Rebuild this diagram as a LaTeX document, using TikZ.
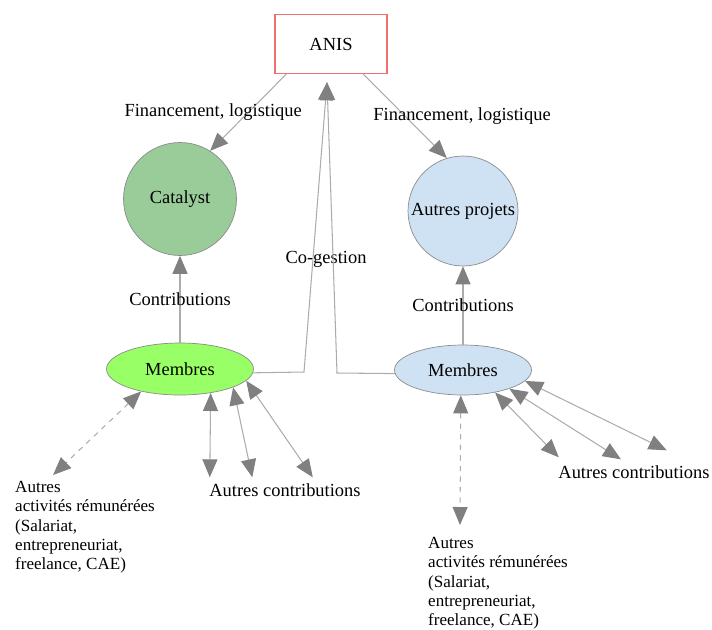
\documentclass[tikz,border=0pt]{standalone}
\usepackage{fontspec}
\setmainfont{Liberation Serif}
\usepackage{xcolor}
\usepackage{tikz}
\usetikzlibrary{shapes.geometric,arrows.meta,calc}
\definecolor{anisred}{RGB}{240,112,112}
\definecolor{catgreen}{RGB}{153,204,153}
\definecolor{memgreen}{RGB}{153,255,102}
\definecolor{lightblue}{RGB}{207,226,243}
\definecolor{linegray}{RGB}{172,172,172}
\definecolor{tipgray}{RGB}{128,128,128}
\definecolor{bordergray}{RGB}{140,140,140}

\begin{document}
\begin{tikzpicture}[x=0.02cm,y=-0.02cm,font=\fontsize{10.5}{12.6}\selectfont,
    >={Triangle[length=0.36cm,width=0.3cm,color=tipgray]}]
    % `project' is used for the two circles (Catalyst, other projects).
    % `members' is used for the two ellipses.
    % `link' is used for every connector, `others' for the text blocks.
    \tikzstyle{project} = [draw=bordergray,shape=circle,inner sep=0pt]
    \tikzstyle{members} = [draw=bordergray,shape=ellipse,inner sep=0pt]
    \tikzstyle{link} = [draw=linegray,line width=0.6pt,->]
    \tikzstyle{others} = [align=left,anchor=north west,font=\fontsize{9.7}{11}\selectfont]
    \useasboundingbox (0,0) rectangle (712,629);
    %
    % Nodes.
    \node[draw=anisred,line width=0.8pt,minimum width=2.24cm,minimum height=1.18cm] (anis) at (331,44) {ANIS};
    \node[project,fill=catgreen,minimum size=2.26cm] (cat) at (180,199) {Catalyst};
    \node[project,fill=lightblue,minimum size=2.2cm] (proj) at (463,211) {Autres projets};
    \node[members,fill=memgreen,minimum width=2.94cm,minimum height=1.04cm] (mem1) at (180,369) {Membres};
    \node[members,fill=lightblue,minimum width=2.74cm,minimum height=1cm] (mem2) at (463,370) {Membres};
    \node (cog) at (326,259) {Co-gestion};
    \node (contL) at (285,490) {Autres contributions};
    \node (contR) at (634,472) {Autres contributions};
    \node[others] (actL) at (9,475) {Autres\\activités rémunérées\\(Salariat,\\entrepreneuriat,\\freelance, CAE)};
    \node[others] (actR) at (422,531) {Autres\\activités rémunérées\\(Salariat,\\entrepreneuriat,\\freelance, CAE)};
    %
    % Funding and contributions.
    \draw[link] (anis.214) -- node[xshift=-0.7cm] {Financement, logistique} (cat.58);
    \draw[link] (anis.317) -- node[xshift=1.14cm] {Financement, logistique} (proj.107);
    \draw[link] (mem1) -- node {Contributions} (cat);
    \draw[link] (mem2) -- node {Contributions} (proj);
    % Co-gestion, both members meet under ANIS.
    \coordinate (cogL) at (304,372);
    \coordinate (cogR) at (337,373);
    \draw[link] (mem1.357) -- (cogL) -- ($(anis.south)+(-4,8)$);
    \draw[link] (mem2.183) -- (cogR) -- ($(anis.south)+(-4,8)$);
    % Left members.
    \draw[link,<->,dashed] (mem1.210) -- ($(actL.north west)!0.29!(actL.north east)$);
    \draw[link,<->] (mem1.322) -- ($(contL.north west)!0.04!(contL.north east)$);
    \draw[link,<->] (mem1.341) -- ($(contL.north west)!0.30!(contL.north east)$);
    \draw[link,<->] (mem1.350) -- ($(contL.north west)!0.67!(contL.north east)$);
    % Right members.
    \draw[link,<->,dashed] (mem2.265) -- ($(actR.north west)!0.25!(actR.north east)+(0,-6)$);
    \draw[link,<->] (mem2.325) -- ($(contR.north west)!0.04!(contR.north east)+(0,-2)$);
    \draw[link,<->] (mem2.338) -- ($(contR.north west)!0.42!(contR.north east)$);
    \draw[link,<->] (mem2.350) -- ($(contR.north west)!0.70!(contR.north east)+(0,-9)$);
    %
\end{tikzpicture}
\end{document}
